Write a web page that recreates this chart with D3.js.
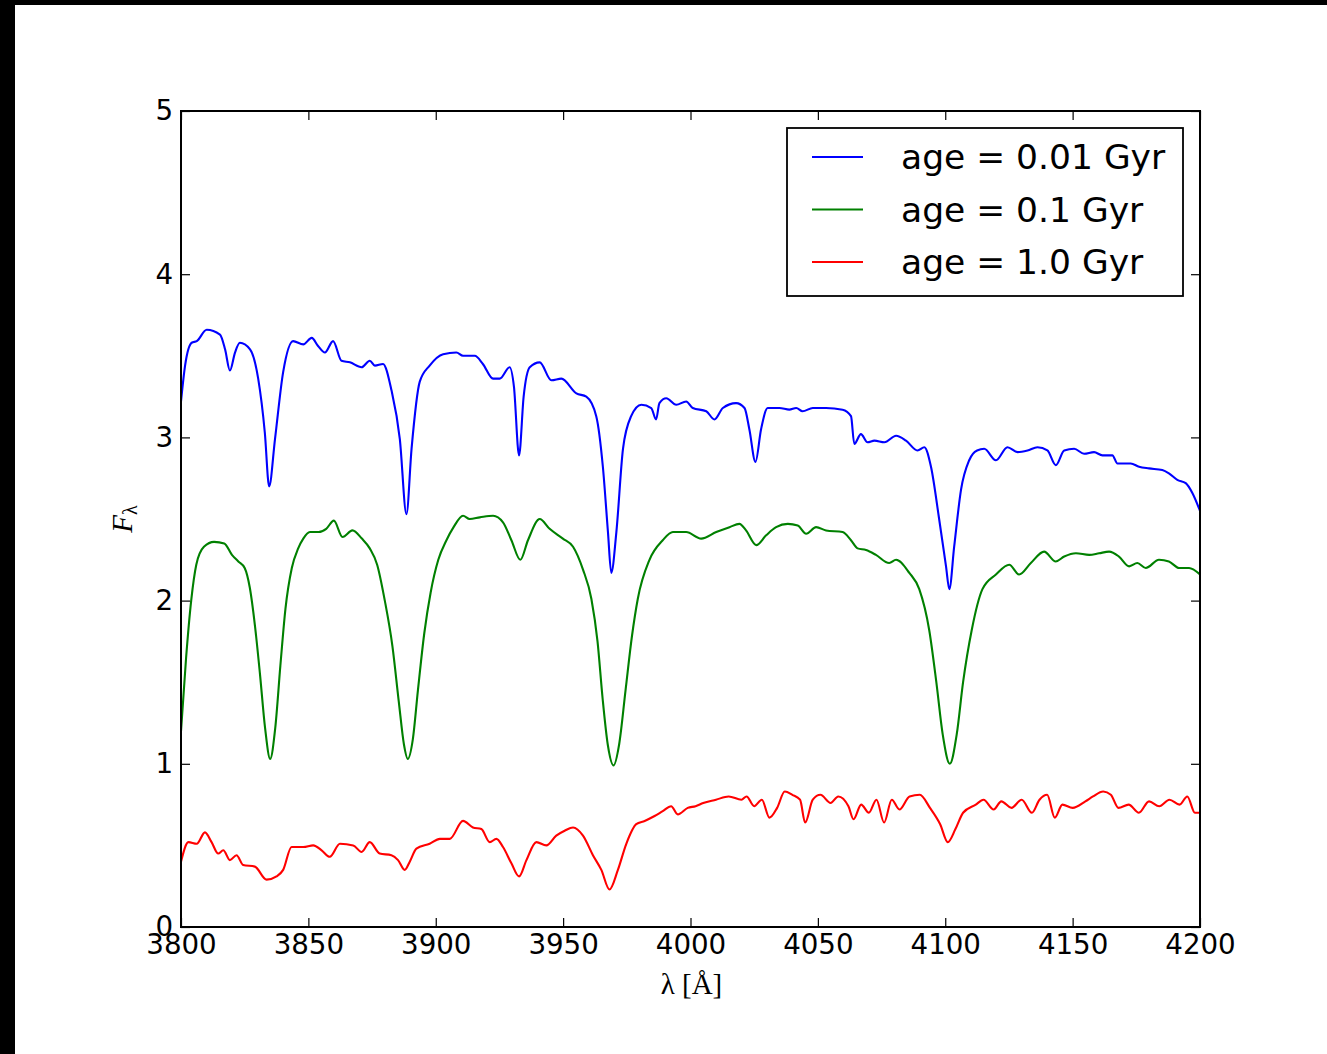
<!DOCTYPE html>
<html>
<head>
<meta charset="utf-8">
<script src="https://cdn.jsdelivr.net/npm/d3@7/dist/d3.min.js"></script>
<style>
  html, body { margin: 0; padding: 0; background: #ffffff; }
  svg { display: block; }
</style>
</head>
<body>
<svg id="chart" width="1327" height="1054"></svg>
<script>
// Synthetic stellar-population spectra, F_lambda vs wavelength [Angstrom]
const spectrumAge001 = [
  [3800,3.22],[3801.6,3.44],[3804.2,3.58],[3806.2,3.59],[3810.1,3.66],[3815.3,3.63],[3817.3,3.54],
  [3819.2,3.41],[3821.2,3.52],[3823.1,3.58],[3827.1,3.54],[3830.3,3.36],[3832.9,3.03],[3834.6,2.70],
  [3836.9,2.99],[3840.1,3.40],[3844.0,3.59],[3848.0,3.57],[3851.3,3.61],[3853.8,3.56],[3856.5,3.52],
  [3859.7,3.59],[3863.0,3.47],[3866.3,3.46],[3870.9,3.43],[3874.1,3.47],[3876.1,3.44],[3879.3,3.45],
  [3882.6,3.29],[3885.9,2.99],[3888.5,2.53],[3890.5,2.93],[3893.7,3.34],[3897.6,3.44],[3902.9,3.51],
  [3908.1,3.52],[3910.7,3.50],[3915.3,3.50],[3918.5,3.45],[3922.5,3.36],[3925.1,3.36],[3929.0,3.43],
  [3930.7,3.31],[3932.7,2.89],[3934.5,3.25],[3936.9,3.43],[3940.8,3.46],[3945.4,3.35],[3949.3,3.36],
  [3955.2,3.27],[3959.1,3.25],[3963.0,3.13],[3965.6,2.82],[3967.6,2.42],[3968.9,2.17],[3970.9,2.42],
  [3973.5,2.93],[3976.7,3.13],[3980.7,3.20],[3984.6,3.18],[3986.5,3.11],[3987.8,3.21],[3990.5,3.24],
  [3994.4,3.20],[3998.3,3.22],[4000.9,3.18],[4006.2,3.16],[4009.4,3.11],[4012.7,3.18],[4017.9,3.21],
  [4021.2,3.18],[4023.1,3.05],[4025.5,2.85],[4027.7,3.05],[4030.3,3.18],[4034.9,3.18],[4038.8,3.17],
  [4041.5,3.18],[4044.0,3.16],[4048.0,3.18],[4053.2,3.18],[4059.7,3.17],[4063.0,3.13],[4064.3,2.96],
  [4066.9,3.02],[4069.5,2.97],[4072.2,2.98],[4076.1,2.97],[4080.7,3.01],[4084.6,2.98],[4089.1,2.92],
  [4091.8,2.94],[4094.4,2.82],[4097.6,2.50],[4100.3,2.21],[4101.6,2.07],[4103.5,2.33],[4106.2,2.68],
  [4109.4,2.86],[4112.5,2.92],[4115.3,2.93],[4119.9,2.86],[4124.4,2.94],[4128.4,2.91],[4132.3,2.92],
  [4136.2,2.94],[4140.1,2.92],[4143.4,2.83],[4146.7,2.92],[4150.6,2.93],[4154.5,2.90],[4158.4,2.91],
  [4161.7,2.89],[4165.6,2.89],[4167.6,2.84],[4172.8,2.84],[4176.1,2.82],[4180.0,2.81],[4185.2,2.80],
  [4187.8,2.78],[4191.1,2.74],[4194.4,2.72],[4197.0,2.66],[4200,2.55]
];

const spectrumAge01 = [
  [3800,1.20],[3802,1.65],[3804,2.00],[3806,2.22],[3809,2.33],[3813,2.36],[3817,2.35],[3820,2.28],
  [3822.5,2.24],[3825,2.20],[3827,2.08],[3829,1.85],[3831,1.55],[3833,1.22],[3835,1.03],[3837,1.22],
  [3839,1.60],[3841,1.95],[3843.5,2.20],[3846,2.32],[3848,2.38],[3850.6,2.42],[3854,2.42],[3857,2.44],
  [3860,2.49],[3863.4,2.39],[3867.3,2.43],[3871,2.38],[3874.1,2.32],[3877,2.22],[3880,2.00],[3883,1.72],
  [3885.5,1.38],[3887.5,1.12],[3889,1.03],[3891,1.15],[3893,1.45],[3895.5,1.80],[3898,2.05],[3901,2.25],
  [3904.2,2.37],[3907,2.45],[3910.7,2.52],[3913.3,2.50],[3917.3,2.51],[3922.5,2.52],[3926.4,2.48],
  [3929.7,2.37],[3933.2,2.25],[3936.2,2.37],[3940.8,2.50],[3944.7,2.44],[3949.9,2.38],[3953.9,2.33],
  [3957.8,2.19],[3961.1,2.01],[3963.5,1.75],[3965.5,1.40],[3967.5,1.12],[3969.8,0.99],[3972,1.12],
  [3974.5,1.45],[3977,1.78],[3979.3,2.01],[3983.9,2.25],[3989.1,2.37],[3993.1,2.42],[3998.3,2.42],
  [4004.2,2.38],[4010.1,2.42],[4015.3,2.45],[4019.2,2.47],[4021.8,2.43],[4025.8,2.34],[4029.7,2.40],
  [4033.6,2.45],[4038.2,2.47],[4042.1,2.46],[4045.4,2.41],[4049.3,2.45],[4053.2,2.43],[4059.7,2.42],
  [4063.0,2.37],[4065.6,2.32],[4068.9,2.31],[4072.8,2.28],[4078.0,2.23],[4080.7,2.25],[4085.9,2.17],
  [4089.8,2.07],[4093.7,1.82],[4096.5,1.50],[4099,1.18],[4101.8,1.00],[4104.5,1.18],[4107,1.50],
  [4110.4,1.82],[4114.6,2.07],[4119.9,2.16],[4125.1,2.22],[4129.0,2.16],[4133.6,2.23],[4138.8,2.30],
  [4143.4,2.24],[4146.7,2.27],[4151.3,2.29],[4156.5,2.28],[4160.4,2.29],[4164.3,2.30],[4168.2,2.27],
  [4172.2,2.21],[4175.4,2.23],[4178.7,2.20],[4183.9,2.25],[4187.8,2.24],[4191.8,2.20],[4195.7,2.20],
  [4200,2.16]
];

const spectrumAge10 = [
  [3800,0.40],[3802.9,0.52],[3806.2,0.51],[3809.4,0.58],[3812.0,0.52],[3814.6,0.45],[3816.6,0.47],
  [3819.2,0.41],[3821.8,0.44],[3824.4,0.38],[3829.0,0.37],[3833.6,0.29],[3837.5,0.31],[3840.1,0.35],
  [3843.4,0.49],[3848.0,0.49],[3851.9,0.50],[3855.2,0.47],[3858.4,0.43],[3862.4,0.51],[3867.6,0.50],
  [3870.9,0.46],[3874.1,0.52],[3878.0,0.45],[3882.6,0.44],[3885.2,0.41],[3887.8,0.35],[3889.8,0.40],
  [3892.4,0.48],[3897.6,0.51],[3901.6,0.54],[3905.5,0.54],[3910.7,0.65],[3914.6,0.61],[3917.9,0.60],
  [3921.2,0.52],[3923.8,0.54],[3926.4,0.49],[3929.7,0.39],[3932.7,0.31],[3935.6,0.41],[3939.5,0.52],
  [3943.4,0.50],[3947.3,0.56],[3950.6,0.59],[3953.9,0.61],[3957.8,0.56],[3961.7,0.44],[3965.0,0.35],
  [3968.2,0.23],[3971.5,0.35],[3974.8,0.51],[3978.7,0.63],[3982.0,0.65],[3985.9,0.68],[3989.1,0.71],
  [3992.4,0.74],[3995.0,0.69],[3998.9,0.73],[4002,0.74],[4005,0.76],[4010,0.78],[4015,0.80],
  [4020,0.78],[4022,0.80],[4025,0.74],[4028,0.78],[4031,0.67],[4034,0.73],[4037,0.83],[4040,0.81],
  [4043,0.78],[4045,0.64],[4048,0.78],[4051,0.81],[4055,0.76],[4058,0.80],[4062,0.74],[4064,0.66],
  [4067,0.75],[4070,0.70],[4073,0.78],[4076,0.64],[4079,0.78],[4082,0.72],[4086,0.80],[4090,0.81],
  [4094,0.73],[4098,0.63],[4101,0.52],[4104,0.60],[4107,0.70],[4112,0.75],[4115,0.78],[4119,0.72],
  [4122,0.77],[4126,0.73],[4130,0.78],[4134,0.70],[4137,0.78],[4140,0.81],[4143,0.67],[4146,0.75],
  [4150,0.73],[4155,0.77],[4158,0.80],[4162,0.83],[4165,0.81],[4168,0.73],[4172,0.75],[4176,0.70],
  [4180,0.77],[4184,0.74],[4188,0.78],[4192,0.75],[4195,0.80],[4198,0.70],[4200,0.70]
];

const seriesLabels = ["age = 0.01 Gyr", "age = 0.1 Gyr", "age = 1.0 Gyr"];
const seriesColors = ["#0000ff", "#008000", "#ff0000"];
const xTickValues = [3800, 3850, 3900, 3950, 4000, 4050, 4100, 4150, 4200];
const yTickValues = [0, 1, 2, 3, 4, 5];

const svg = d3.select("#chart");
const W = 1327, H = 1054;
const plot = { left: 181, right: 1200, top: 111, bottom: 927 };

// dark frame strips along the top and left edges
svg.append("rect").attr("x", 0).attr("y", 0).attr("width", W).attr("height", H).attr("fill", "#ffffff");
svg.append("rect").attr("x", 0).attr("y", 0).attr("width", W).attr("height", 5).attr("fill", "#000000");
svg.append("rect").attr("x", 0).attr("y", 0).attr("width", 15).attr("height", H).attr("fill", "#000000");

const x = d3.scaleLinear().domain([3800, 4200]).range([plot.left, plot.right]);
const y = d3.scaleLinear().domain([0, 5]).range([plot.bottom, plot.top]);

const tickFont = "'DejaVu Sans', 'Bitstream Vera Sans', sans-serif";

// clip the spectra to the axes box
svg.append("defs").append("clipPath").attr("id", "plotClip")
  .append("rect")
  .attr("x", plot.left).attr("y", plot.top)
  .attr("width", plot.right - plot.left).attr("height", plot.bottom - plot.top);

const line = d3.line()
  .x(d => x(d[0]))
  .y(d => y(d[1]))
  .curve(d3.curveMonotoneX);

const allSeries = [spectrumAge001, spectrumAge01, spectrumAge10];
const gLines = svg.append("g").attr("clip-path", "url(#plotClip)");
allSeries.forEach((s, i) => {
  gLines.append("path")
    .datum(s)
    .attr("d", line)
    .attr("fill", "none")
    .attr("stroke", seriesColors[i])
    .attr("stroke-width", 2.1)
    .attr("stroke-linejoin", "round");
});

// axes with inward ticks on all four sides
const tickLen = 9;
function styleAxis(g) {
  g.select(".domain").remove();
  g.selectAll(".tick line").attr("stroke", "#000").attr("stroke-width", 1.2);
  g.selectAll(".tick text")
    .attr("fill", "#000")
    .style("font-family", tickFont)
    .style("font-size", "27.7px");
}

const xBottom = svg.append("g")
  .attr("transform", `translate(0,${plot.bottom})`)
  .call(d3.axisBottom(x).tickValues(xTickValues).tickFormat(d3.format("d"))
    .tickSizeInner(-tickLen).tickSizeOuter(0).tickPadding(8));
styleAxis(xBottom);
xBottom.selectAll(".tick text").attr("dy", "0.71em").attr("y", 7);

const xTop = svg.append("g")
  .attr("transform", `translate(0,${plot.top})`)
  .call(d3.axisTop(x).tickValues(xTickValues).tickFormat("")
    .tickSizeInner(-tickLen).tickSizeOuter(0));
styleAxis(xTop);

const yLeft = svg.append("g")
  .attr("transform", `translate(${plot.left},0)`)
  .call(d3.axisLeft(y).tickValues(yTickValues).tickFormat(d3.format("d"))
    .tickSizeInner(-tickLen).tickSizeOuter(0).tickPadding(8));
styleAxis(yLeft);
yLeft.selectAll(".tick text").attr("x", -8);

const yRight = svg.append("g")
  .attr("transform", `translate(${plot.right},0)`)
  .call(d3.axisRight(y).tickValues(yTickValues).tickFormat("")
    .tickSizeInner(-tickLen).tickSizeOuter(0));
styleAxis(yRight);

// axes frame
svg.append("rect")
  .attr("x", plot.left).attr("y", plot.top)
  .attr("width", plot.right - plot.left).attr("height", plot.bottom - plot.top)
  .attr("fill", "none").attr("stroke", "#000").attr("stroke-width", 2);

// axis labels
const serif = "'Liberation Serif', 'DejaVu Serif', serif";
const xLabel = svg.append("text")
  .attr("x", (plot.left + plot.right) / 2 + 1)
  .attr("y", 994)
  .attr("text-anchor", "middle")
  .style("font-family", serif)
  .style("font-size", "29px")
  .attr("fill", "#000");
xLabel.append("tspan").text("λ");
xLabel.append("tspan").text(" [Å]");

const yLabel = svg.append("text")
  .attr("transform", `translate(132,${(plot.top + plot.bottom) / 2}) rotate(-90)`)
  .attr("text-anchor", "middle")
  .style("font-family", serif)
  .style("font-size", "29px")
  .attr("fill", "#000");
yLabel.append("tspan").style("font-style", "italic").text("F");
yLabel.append("tspan").attr("dy", 5).style("font-size", "20px").text("λ");

// legend
const legend = { x: 787, y: 128, w: 396, h: 168 };
const lg = svg.append("g");
lg.append("rect")
  .attr("x", legend.x).attr("y", legend.y)
  .attr("width", legend.w).attr("height", legend.h)
  .attr("fill", "#fff").attr("stroke", "#000").attr("stroke-width", 1.8);
const rowY = d3.scalePoint().domain(d3.range(seriesLabels.length)).range([157, 262]);
seriesLabels.forEach((lab, i) => {
  lg.append("line")
    .attr("x1", 812).attr("x2", 863)
    .attr("y1", rowY(i)).attr("y2", rowY(i))
    .attr("stroke", seriesColors[i]).attr("stroke-width", 2.1);
  lg.append("text")
    .attr("x", 901).attr("y", rowY(i))
    .attr("dy", "0.36em")
    .style("font-family", tickFont)
    .style("font-size", "34.5px")
    .attr("fill", "#000")
    .text(lab);
});
</script>
</body>
</html>
